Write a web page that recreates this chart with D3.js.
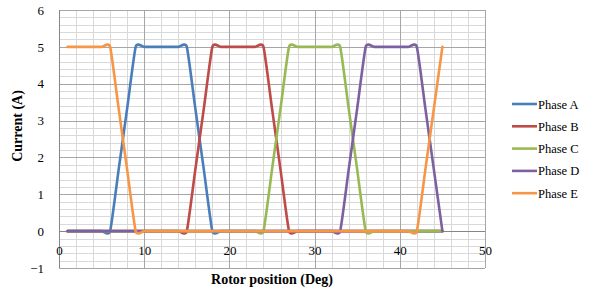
<!DOCTYPE html>
<html>
<head>
<meta charset="utf-8">
<script src="https://cdn.jsdelivr.net/npm/d3@7"></script>
<style>
  body { margin: 0; background: #fff; }
  svg { display: block; font-family: "Liberation Serif", "Times New Roman", serif; }
  .grid line { shape-rendering: crispEdges; }
  .grid path { display: none; }
</style>
</head>
<body>
<svg id="chart" width="590" height="290"></svg>
<script>
// rotor position samples (deg)
var positions = [1,2,3,4,5,6,7,8,9,10,11,12,13,14,15,16,17,18,19,20,21,22,23,24,25,26,27,28,29,30,
                 31,32,33,34,35,36,37,38,39,40,41,42,43,44,45];
var seriesNames = ['Phase A', 'Phase B', 'Phase C', 'Phase D', 'Phase E'];
var seriesColors = ['#4a7ebb', '#be4b48', '#98b954', '#7d60a0', '#f79646'];
// phase currents (A), one value per position
var phaseA = [0,0,0,0,0,0,1.67,3.33,5,5,5,5,5,5,5,3.33,1.67,0,0,0,0,0,0,0,0,0,0,0,0,0,
              0,0,0,0,0,0,0,0,0,0,0,0,0,0,0];
var phaseB = [0,0,0,0,0,0,0,0,0,0,0,0,0,0,0,1.67,3.33,5,5,5,5,5,5,5,3.33,1.67,0,0,0,0,
              0,0,0,0,0,0,0,0,0,0,0,0,0,0,0];
var phaseC = [0,0,0,0,0,0,0,0,0,0,0,0,0,0,0,0,0,0,0,0,0,0,0,0,1.67,3.33,5,5,5,5,
              5,5,5,3.33,1.67,0,0,0,0,0,0,0,0,0,0];
var phaseD = [0,0,0,0,0,0,0,0,0,0,0,0,0,0,0,0,0,0,0,0,0,0,0,0,0,0,0,0,0,0,
              0,0,0,1.67,3.33,5,5,5,5,5,5,5,3.33,1.67,0];
var phaseE = [5,5,5,5,5,5,3.33,1.67,0,0,0,0,0,0,0,0,0,0,0,0,0,0,0,0,0,0,0,0,0,0,
              0,0,0,0,0,0,0,0,0,0,0,0,1.67,3.33,5];
var xTicks = [0,10,20,30,40,50];
var yTicks = [-1,0,1,2,3,4,5,6];
var xMinorTicks = [2,4,6,8,12,14,16,18,22,24,26,28,32,34,36,38,42,44,46,48];
var yMinorTicks = [-0.8,-0.6,-0.4,-0.2,0.2,0.4,0.6,0.8,1.2,1.4,1.6,1.8,2.2,2.4,2.6,2.8,
                   3.2,3.4,3.6,3.8,4.2,4.4,4.6,4.8,5.2,5.4,5.6,5.8];

var allSeries = [phaseA, phaseB, phaseC, phaseD, phaseE];

var svg = d3.select('#chart');
var plotLeft = 59, plotRight = 485, plotTop = 10, plotBottom = 268;

var x = d3.scaleLinear().domain([0, 50]).range([plotLeft, plotRight]);
var y = d3.scaleLinear().domain([-1, 6]).range([plotBottom, plotTop]);

// minor grid
svg.append('g').attr('class', 'grid')
  .attr('transform', 'translate(0,' + plotBottom + ')')
  .call(d3.axisBottom(x).tickValues(xMinorTicks).tickSize(-(plotBottom - plotTop)).tickFormat(''))
  .selectAll('line').attr('stroke', '#d9d9d9');
svg.append('g').attr('class', 'grid')
  .attr('transform', 'translate(' + plotLeft + ',0)')
  .call(d3.axisLeft(y).tickValues(yMinorTicks).tickSize(-(plotRight - plotLeft)).tickFormat(''))
  .selectAll('line').attr('stroke', '#d9d9d9');

// major grid
svg.append('g').attr('class', 'grid')
  .attr('transform', 'translate(0,' + plotBottom + ')')
  .call(d3.axisBottom(x).tickValues(xTicks).tickSize(-(plotBottom - plotTop)).tickFormat(''))
  .selectAll('line').attr('stroke', '#a6a6a6');
svg.append('g').attr('class', 'grid')
  .attr('transform', 'translate(' + plotLeft + ',0)')
  .call(d3.axisLeft(y).tickValues(yTicks).tickSize(-(plotRight - plotLeft)).tickFormat(''))
  .selectAll('line').attr('stroke', '#a6a6a6');

// axis lines
svg.append('line')
  .attr('x1', plotLeft).attr('x2', plotRight)
  .attr('y1', Math.round(y(0)) + 0.5).attr('y2', Math.round(y(0)) + 0.5)
  .attr('stroke', '#868686');
svg.append('line')
  .attr('x1', plotLeft + 0.5).attr('x2', plotLeft + 0.5)
  .attr('y1', plotTop).attr('y2', plotBottom)
  .attr('stroke', '#868686');

// tick labels
var yAxis = svg.append('g')
  .attr('transform', 'translate(' + (plotLeft - 12) + ',0)')
  .call(d3.axisLeft(y).tickValues(yTicks).tickSize(0).tickFormat(d3.format('d')));
yAxis.select('.domain').remove();
yAxis.selectAll('text').attr('font-size', 13).attr('font-family', 'Liberation Serif').attr('fill', '#000');

var xAxis = svg.append('g')
  .attr('transform', 'translate(0,' + (y(0) + 12) + ')')
  .call(d3.axisBottom(x).tickValues(xTicks).tickSize(0).tickFormat(d3.format('d')));
xAxis.select('.domain').remove();
xAxis.selectAll('text').attr('font-size', 13).attr('font-family', 'Liberation Serif').attr('fill', '#000');

// lines
var line = d3.line()
  .x(function(d, i) { return x(positions[i]); })
  .y(function(d) { return y(d); })
  .curve(d3.curveCardinal.tension(0.5));

svg.append('g').selectAll('path')
  .data(allSeries)
  .enter().append('path')
  .attr('d', line)
  .attr('fill', 'none')
  .attr('stroke', function(d, i) { return seriesColors[i]; })
  .attr('stroke-width', 2.6)
  .attr('stroke-linejoin', 'round')
  .attr('stroke-linecap', 'round');

// axis titles
svg.append('text')
  .attr('x', 272).attr('y', 284)
  .attr('text-anchor', 'middle')
  .attr('font-size', 14).attr('font-weight', 'bold')
  .text('Rotor position (Deg)');
svg.append('text')
  .attr('transform', 'translate(22,126) rotate(-90)')
  .attr('text-anchor', 'middle')
  .attr('font-size', 14).attr('font-weight', 'bold')
  .text('Current (A)');

// legend
var legend = svg.append('g').selectAll('g')
  .data(seriesNames)
  .enter().append('g')
  .attr('transform', function(d, i) { return 'translate(512,' + (104 + i * 22.3) + ')'; });
legend.append('line')
  .attr('x1', 0).attr('x2', 25)
  .attr('stroke', function(d, i) { return seriesColors[i]; })
  .attr('stroke-width', 2.6);
legend.append('text')
  .attr('x', 26).attr('y', 4.5)
  .attr('font-size', 12.5)
  .text(function(d) { return d; });
</script>
</body>
</html>
